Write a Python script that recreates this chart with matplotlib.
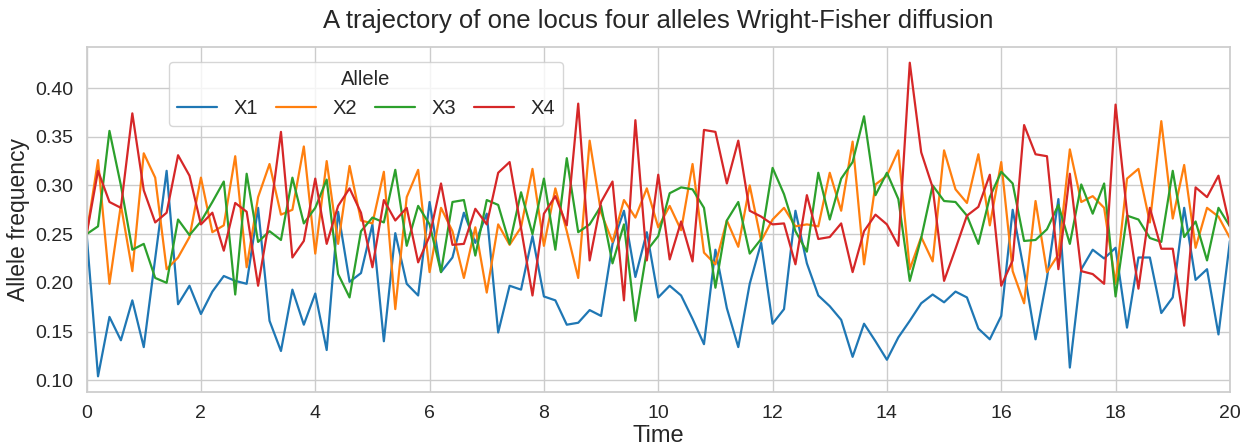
import numpy as np
import matplotlib
matplotlib.use('Agg')
import matplotlib.pyplot as plt
import seaborn as sns

# time grid, step 0.2
t = np.linspace(0, 20, 101)

x1 = [0.250, 0.104, 0.165, 0.141, 0.182, 0.134, 0.225, 0.315, 0.178, 0.197,
      0.168, 0.191, 0.207, 0.202, 0.199, 0.277, 0.161, 0.130, 0.193, 0.157,
      0.189, 0.131, 0.273, 0.201, 0.210, 0.260, 0.140, 0.251, 0.199, 0.187,
      0.283, 0.211, 0.226, 0.272, 0.241, 0.271, 0.149, 0.197, 0.193, 0.248,
      0.186, 0.182, 0.157, 0.159, 0.172, 0.166, 0.240, 0.274, 0.206, 0.252,
      0.185, 0.197, 0.187, 0.163, 0.137, 0.234, 0.174, 0.134, 0.199, 0.241,
      0.158, 0.173, 0.274, 0.220, 0.187, 0.176, 0.162, 0.124, 0.158, 0.140,
      0.121, 0.144, 0.161, 0.179, 0.188, 0.180, 0.191, 0.185, 0.153, 0.142,
      0.166, 0.275, 0.212, 0.142, 0.205, 0.286, 0.113, 0.214, 0.234, 0.225,
      0.236, 0.154, 0.226, 0.226, 0.169, 0.185, 0.277, 0.203, 0.214, 0.147,
      0.243]
x2 = [0.250, 0.326, 0.199, 0.280, 0.212, 0.333, 0.308, 0.214, 0.226, 0.247,
      0.308, 0.252, 0.259, 0.330, 0.216, 0.288, 0.322, 0.270, 0.275, 0.340,
      0.230, 0.325, 0.240, 0.320, 0.264, 0.261, 0.314, 0.173, 0.288, 0.316,
      0.211, 0.277, 0.253, 0.205, 0.257, 0.190, 0.260, 0.239, 0.257, 0.317,
      0.238, 0.297, 0.253, 0.205, 0.346, 0.272, 0.242, 0.285, 0.267, 0.297,
      0.257, 0.279, 0.254, 0.322, 0.231, 0.219, 0.264, 0.237, 0.300, 0.243,
      0.265, 0.277, 0.258, 0.260, 0.258, 0.313, 0.274, 0.345, 0.219, 0.301,
      0.310, 0.336, 0.214, 0.247, 0.222, 0.336, 0.296, 0.282, 0.332, 0.259,
      0.324, 0.212, 0.179, 0.284, 0.211, 0.229, 0.337, 0.283, 0.289, 0.277,
      0.199, 0.307, 0.317, 0.262, 0.366, 0.266, 0.321, 0.236, 0.277, 0.268,
      0.246]
x3 = [0.250, 0.258, 0.356, 0.300, 0.234, 0.240, 0.205, 0.200, 0.265, 0.249,
      0.263, 0.283, 0.304, 0.188, 0.312, 0.242, 0.253, 0.244, 0.308, 0.261,
      0.277, 0.306, 0.209, 0.185, 0.253, 0.267, 0.262, 0.316, 0.238, 0.279,
      0.260, 0.211, 0.283, 0.285, 0.228, 0.285, 0.280, 0.240, 0.293, 0.250,
      0.307, 0.234, 0.328, 0.252, 0.260, 0.279, 0.220, 0.260, 0.161, 0.233,
      0.248, 0.292, 0.298, 0.296, 0.277, 0.195, 0.264, 0.283, 0.230, 0.245,
      0.318, 0.291, 0.253, 0.232, 0.313, 0.265, 0.307, 0.324, 0.371, 0.290,
      0.313, 0.286, 0.202, 0.246, 0.300, 0.284, 0.283, 0.269, 0.240, 0.288,
      0.314, 0.302, 0.243, 0.244, 0.255, 0.280, 0.240, 0.301, 0.271, 0.302,
      0.186, 0.269, 0.265, 0.246, 0.242, 0.315, 0.247, 0.263, 0.223, 0.277,
      0.258]
x4 = [0.250, 0.315, 0.283, 0.277, 0.374, 0.295, 0.262, 0.272, 0.331, 0.310,
      0.260, 0.272, 0.233, 0.282, 0.273, 0.197, 0.266, 0.355, 0.226, 0.243,
      0.307, 0.240, 0.279, 0.297, 0.272, 0.216, 0.285, 0.264, 0.277, 0.221,
      0.248, 0.302, 0.239, 0.240, 0.276, 0.260, 0.313, 0.324, 0.256, 0.187,
      0.271, 0.289, 0.259, 0.384, 0.223, 0.283, 0.304, 0.182, 0.367, 0.223,
      0.311, 0.224, 0.263, 0.222, 0.357, 0.355, 0.302, 0.346, 0.274, 0.268,
      0.260, 0.261, 0.219, 0.290, 0.245, 0.247, 0.261, 0.211, 0.253, 0.270,
      0.260, 0.238, 0.426, 0.334, 0.298, 0.202, 0.235, 0.269, 0.278, 0.311,
      0.197, 0.223, 0.362, 0.332, 0.330, 0.214, 0.312, 0.212, 0.209, 0.199,
      0.383, 0.272, 0.194, 0.277, 0.235, 0.235, 0.156, 0.298, 0.288, 0.310,
      0.258]

series = {'X1': x1, 'X2': x2, 'X3': x3, 'X4': x4}
colors = ['tab:blue', 'tab:orange', 'tab:green', 'tab:red']

sns.set_theme(style='whitegrid')
plt.rcParams['font.family'] = ['Liberation Sans', 'DejaVu Sans']

fig, ax = plt.subplots(figsize=(12.55, 4.48), dpi=100)
for (name, vals), c in zip(series.items(), colors):
    ax.plot(t, vals, label=name, color=c, linewidth=1.6)

ax.set_xlim(0, 20)
ax.set_xticks(range(0, 21, 2))
ax.set_xlabel('Time', fontsize=17, labelpad=2)
ax.set_ylabel('Allele frequency', fontsize=16.5)
ax.set_title('A trajectory of one locus four alleles Wright-Fisher diffusion',
             fontsize=18.5, pad=14)
ax.tick_params(axis='both', labelsize=14)
ax.legend(title='Allele', ncol=4, fontsize=14.5, title_fontsize=14.5,
          loc='upper left', bbox_to_anchor=(0.072, 0.957), borderaxespad=0,
          handlelength=2.0, columnspacing=0.9, handletextpad=0.8)

plt.subplots_adjust(left=0.069, right=0.98, top=0.895, bottom=0.125)
plt.savefig('out.png')
